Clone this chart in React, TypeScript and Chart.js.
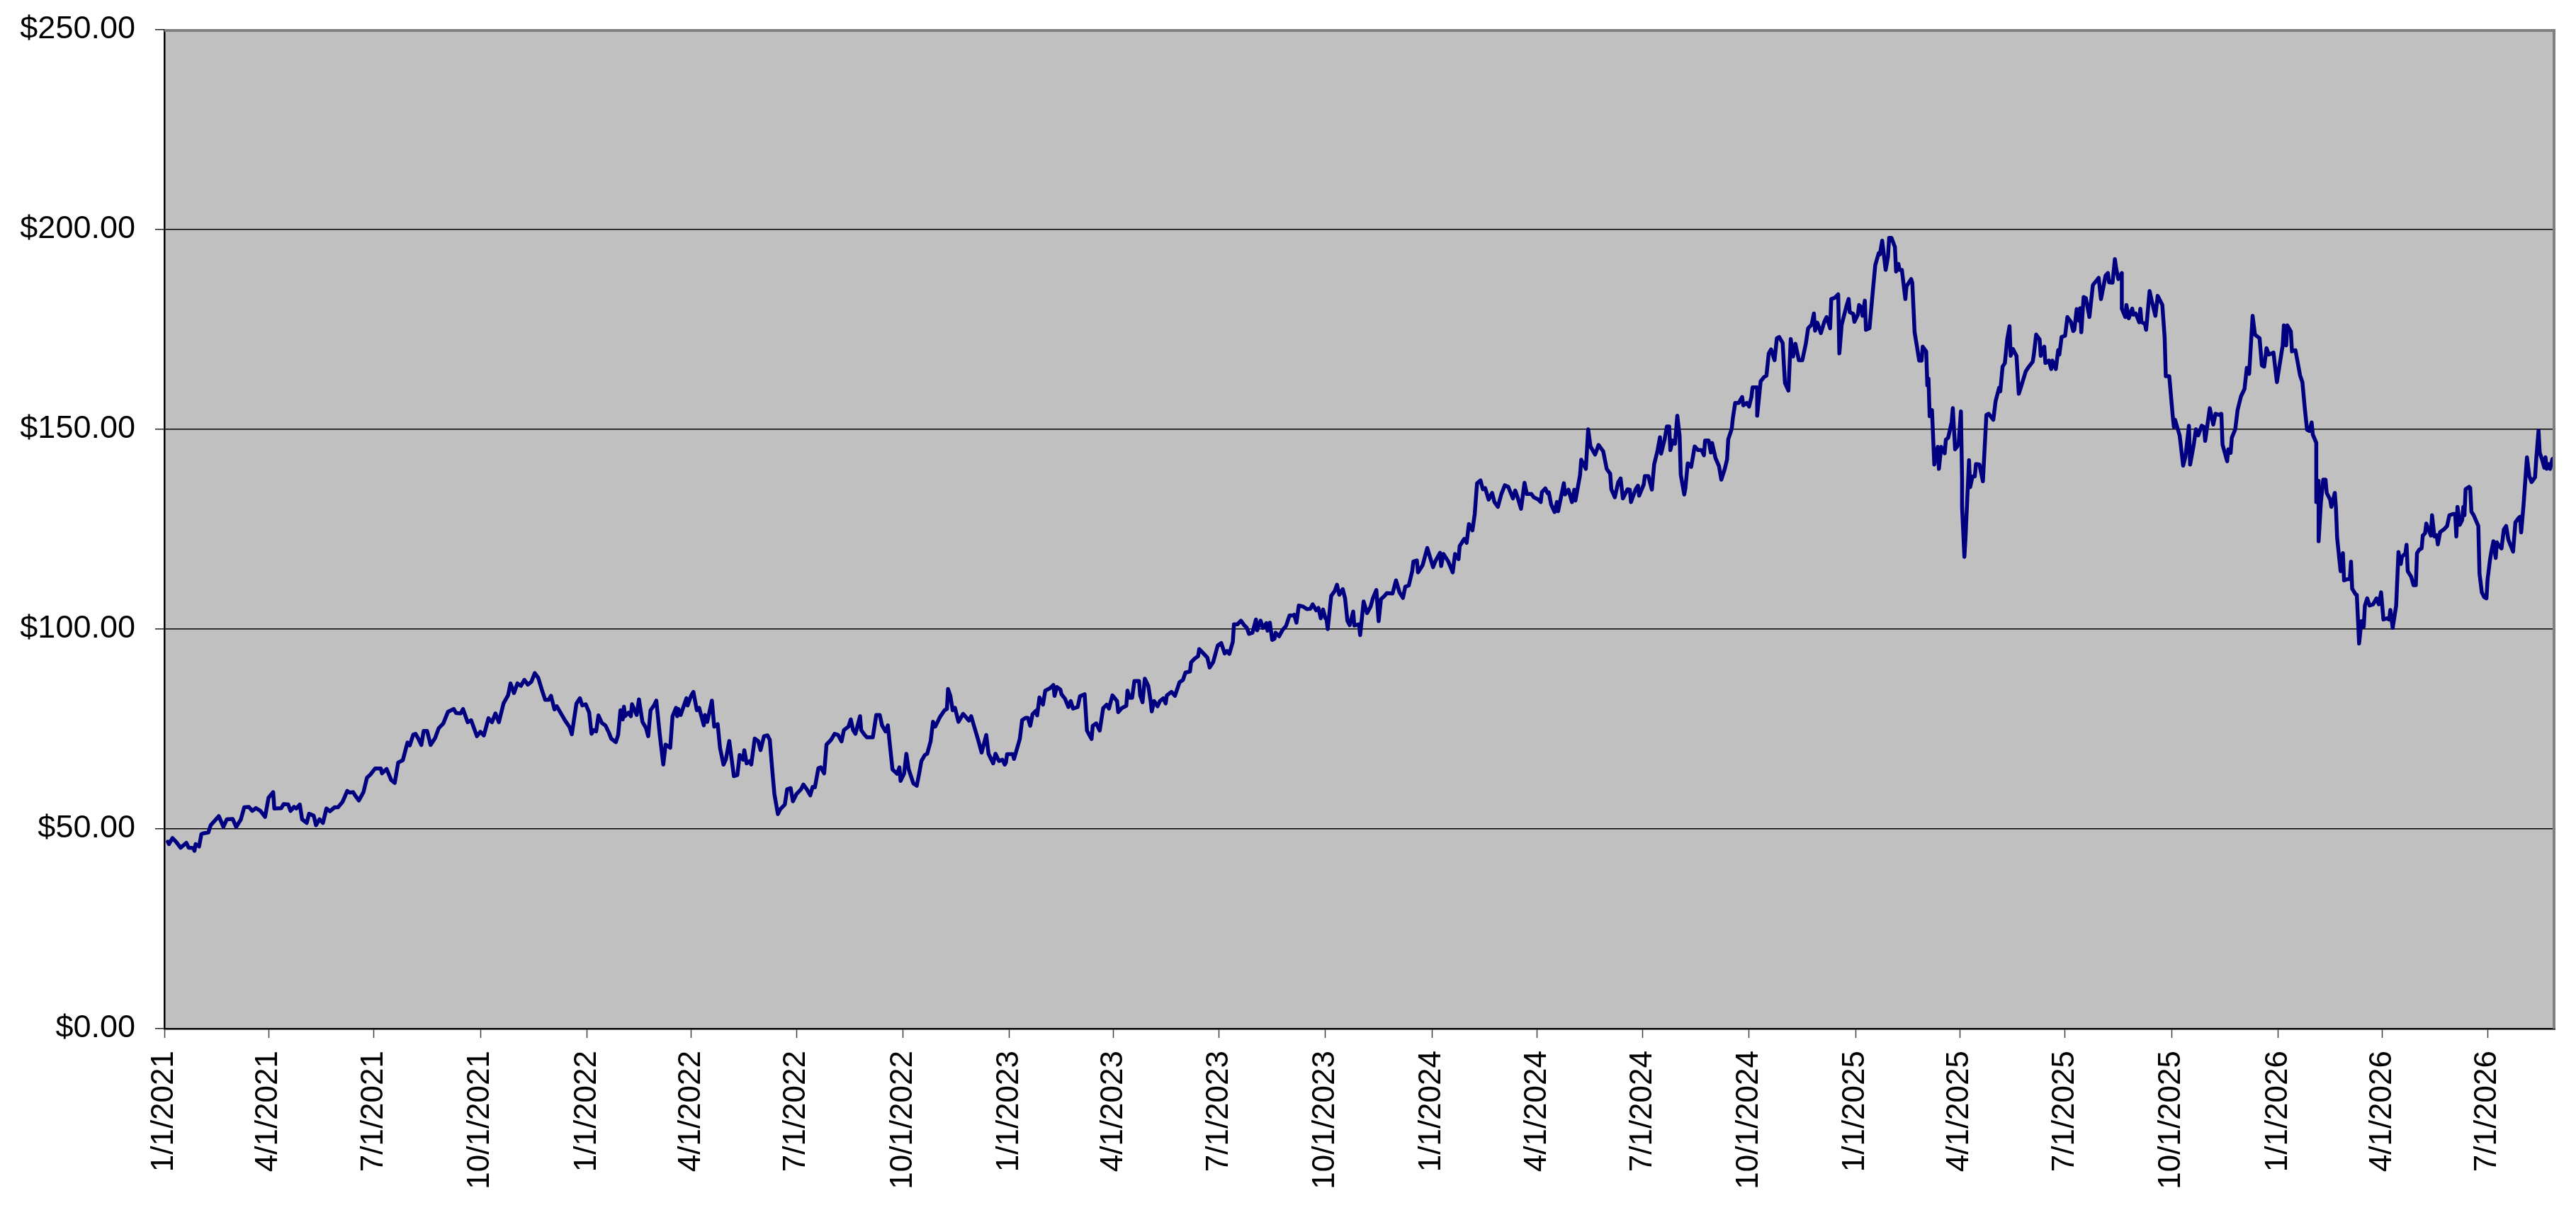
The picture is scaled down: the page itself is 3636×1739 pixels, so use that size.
import { useEffect, useRef } from 'react';
import { Chart, registerables } from 'chart.js';

Chart.register(...registerables);

const FONT_FAMILY = '"Liberation Sans", Arial, Helvetica, sans-serif';

// Quarterly category labels on the date axis
const quarterLabels: string[] = [
  '1/1/2021', '4/1/2021', '7/1/2021', '10/1/2021',
  '1/1/2022', '4/1/2022', '7/1/2022', '10/1/2022',
  '1/1/2023', '4/1/2023', '7/1/2023', '10/1/2023',
  '1/1/2024', '4/1/2024', '7/1/2024', '10/1/2024',
  '1/1/2025', '4/1/2025', '7/1/2025', '10/1/2025',
  '1/1/2026', '4/1/2026', '7/1/2026',
];

// Value axis
const yMin = 0;
const yMax = 250;
const yStep = 50;

// [days since 1/1/2021, closing price]
const period2021: [number, number][] = [
  [3, 46.8], [4, 46.2], [7, 47.7], [10, 46.8], [14, 45.3], [19, 46.5], [21, 45.3], [25, 45.2], [26, 44.5], [27, 46.2],
  [30, 45.6], [32, 48.7], [34, 48.9], [38, 49.1], [40, 50.9], [47, 53.2], [51, 50.5], [54, 52.4], [59, 52.5], [62, 50.5],
  [66, 52.3], [69, 55.4], [73, 55.5], [76, 54.5], [79, 55.2], [83, 54.5], [87, 53.0], [90, 57.8], [94, 59.2], [95, 55.1],
  [101, 55.2], [103, 56.2], [107, 56.1], [109, 54.5], [112, 55.5], [114, 55.1], [117, 56.1], [119, 52.4], [123, 51.5], [125, 53.8],
  [129, 53.3], [131, 50.9], [134, 52.4], [137, 51.5], [140, 55.1], [143, 54.4], [147, 55.4], [150, 55.4], [154, 56.8], [158, 59.5],
  [160, 59.1], [163, 59.2], [165, 58.3], [168, 57.1], [172, 59.2], [175, 62.8], [178, 63.6], [182, 65.1], [187, 65.1], [188, 63.9],
  [192, 65.0], [196, 62.2], [199, 61.5], [202, 66.6], [206, 67.2], [210, 71.6], [212, 70.9], [215, 73.6], [217, 73.8], [219, 72.8],
  [222, 71.0], [224, 74.5], [227, 74.5], [230, 71.0], [234, 72.8], [237, 75.2], [241, 76.4], [245, 79.3], [250, 80.0], [252, 79.0],
  [256, 78.9], [258, 80.0], [262, 76.7], [265, 77.2], [270, 73.2], [273, 74.3], [276, 73.4], [280, 77.7], [283, 76.7], [286, 78.9],
  [289, 76.7], [293, 81.4], [297, 83.5], [299, 86.4], [302, 84.0], [305, 86.4], [308, 85.8], [311, 87.3], [314, 86.1], [317, 86.8],
  [320, 89.0], [323, 87.8], [326, 84.9], [329, 82.3], [332, 82.3], [334, 83.3], [337, 79.9], [339, 80.7], [343, 78.7], [346, 77.2],
  [350, 75.5], [352, 73.7], [356, 81.4],
];

const period2022: [number, number][] = [
  [359, 82.7], [361, 80.9], [364, 81.2], [367, 79.1], [369, 73.8], [371, 74.7], [373, 74.4], [375, 78.4], [378, 76.5], [381, 75.9],
  [384, 74.1], [386, 72.6], [390, 71.7], [392, 73.5], [394, 79.7], [396, 77.4], [397, 80.6], [398, 78.2], [401, 79.1], [403, 78.2],
  [404, 81.2], [408, 78.5], [410, 82.4], [413, 76.8], [416, 75.3], [418, 73.2], [420, 79.7], [423, 80.9], [425, 82.1], [428, 73.5],
  [431, 66.1], [433, 71.1], [437, 70.3], [439, 78.2], [442, 80.3], [443, 78.2], [444, 80.0], [446, 78.5], [451, 82.7], [452, 80.9],
  [455, 83.3], [457, 84.3], [460, 79.7], [462, 80.3], [466, 75.9], [467, 78.5], [469, 76.8], [473, 82.1], [475, 75.6], [478, 76.2],
  [480, 70.3], [483, 66.1], [485, 67.3], [488, 72.0], [490, 67.6], [492, 63.2], [495, 63.5], [497, 68.5], [500, 67.3], [501, 69.7],
  [503, 66.4], [506, 67.0], [507, 66.1], [510, 72.6], [513, 72.0], [515, 69.7], [518, 73.2], [521, 73.4], [523, 72.3], [525, 65.2],
  [527, 58.7], [530, 53.7], [532, 54.9], [536, 56.1], [538, 59.9], [541, 60.2], [543, 56.9], [546, 58.7], [550, 59.9], [552, 61.1],
  [555, 59.9], [558, 58.4], [560, 60.5], [562, 60.4], [565, 65.2], [567, 65.4], [570, 63.9], [572, 71.1], [576, 72.3], [579, 73.8],
  [582, 73.5], [585, 71.9], [587, 74.7], [591, 75.6], [593, 77.4], [595, 74.7], [597, 73.8], [601, 78.2], [602, 74.7], [605, 73.5],
  [607, 72.9], [612, 72.9], [615, 78.5], [618, 78.5], [620, 75.9], [623, 74.4], [625, 75.9], [629, 64.9], [633, 63.8], [635, 65.4],
  [636, 62.0], [639, 63.8], [641, 68.8], [643, 64.9], [647, 61.4], [650, 60.8], [652, 63.8], [654, 67.0], [657, 68.5], [659, 68.8],
  [662, 72.0], [664, 76.8], [666, 75.6], [670, 78.0], [674, 79.7], [676, 80.0], [677, 85.0], [679, 83.3], [681, 79.7], [683, 80.3],
  [686, 76.8], [690, 78.8], [695, 77.1], [697, 78.2], [699, 76.2], [703, 72.3], [706, 69.1], [710, 73.5], [712, 68.8], [716, 66.4],
  [718, 68.8], [721, 67.0], [724, 67.3], [726, 66.1],
];

const period2023: [number, number][] = [
  [727, 66.6], [728, 68.7], [733, 68.7], [734, 67.5], [736, 69.5], [739, 72.5], [741, 77.2], [744, 77.8], [746, 77.8], [748, 75.8],
  [750, 78.7], [753, 79.6], [754, 78.4], [756, 82.9], [759, 81.1], [761, 84.6], [765, 85.2], [768, 86.0], [769, 83.3], [771, 85.5],
  [774, 84.9], [775, 83.7], [778, 82.6], [781, 80.5], [783, 82.0], [785, 80.1], [789, 80.5], [791, 83.2], [795, 83.7], [797, 74.6],
  [801, 72.5], [802, 75.8], [805, 76.4], [808, 74.6], [811, 80.2], [814, 81.1], [816, 80.1], [819, 83.4], [823, 82.0], [824, 79.2],
  [827, 80.2], [831, 80.8], [832, 84.6], [834, 82.8], [836, 82.8], [838, 87.0], [842, 87.0], [843, 83.4], [845, 81.7], [847, 87.6],
  [850, 85.8], [852, 82.0], [853, 79.4], [855, 82.0], [858, 80.7], [860, 82.0], [863, 82.7], [865, 81.4], [866, 83.4], [870, 84.3],
  [873, 83.3], [877, 86.7], [880, 87.3], [882, 89.1], [886, 89.4], [887, 91.7], [890, 92.6], [893, 93.2], [894, 95.0], [898, 93.8],
  [901, 92.9], [903, 90.4], [906, 91.7], [910, 95.9], [913, 96.5], [916, 93.9], [918, 94.5], [920, 93.8], [923, 96.8], [924, 101.2],
  [927, 101.2], [930, 102.1], [933, 100.9], [935, 100.4], [937, 98.8], [940, 99.1], [943, 102.4], [944, 99.7], [947, 102.1], [949, 100.3],
  [952, 101.5], [953, 99.6], [955, 101.6], [957, 97.3], [959, 97.6], [960, 99.1], [963, 98.2], [966, 99.8], [969, 100.8], [972, 103.4],
  [975, 103.4], [976, 103.6], [978, 101.6], [980, 105.9], [984, 105.6], [987, 105.0], [990, 105.1], [992, 106.2], [995, 104.7], [997, 105.3],
  [999, 102.7], [1001, 104.9], [1003, 102.7], [1004, 102.4], [1005, 100.0], [1008, 108.3], [1011, 109.5], [1013, 111.1], [1015, 108.6], [1018, 110.0],
  [1020, 107.7], [1022, 102.1], [1024, 101.0], [1027, 104.4], [1028, 100.9], [1032, 101.2], [1033, 98.5], [1036, 106.9], [1039, 104.0], [1042, 105.6],
  [1044, 107.7], [1047, 109.8], [1049, 102.0], [1051, 107.5], [1054, 108.3], [1056, 109.0], [1061, 108.9], [1064, 112.2], [1067, 109.2], [1070, 107.8],
  [1072, 110.6], [1075, 110.9], [1078, 114.5], [1079, 116.9], [1082, 117.2], [1083, 114.2], [1087, 116.0],
];

const period2024: [number, number][] = [
  [1091, 120.3], [1096, 115.5], [1098, 117.0], [1102, 119.1], [1103, 115.8], [1105, 118.8], [1109, 117.0], [1113, 114.2], [1115, 118.8], [1118, 117.5],
  [1119, 120.8], [1123, 122.6], [1125, 121.6], [1127, 126.3], [1130, 124.7], [1132, 128.8], [1134, 136.5], [1137, 137.2], [1139, 135.0], [1141, 135.3],
  [1144, 132.4], [1147, 134.1], [1149, 131.8], [1152, 130.6], [1155, 133.8], [1158, 136.0], [1161, 135.6], [1165, 132.7], [1167, 134.7], [1169, 133.0],
  [1172, 130.1], [1175, 136.6], [1177, 133.8], [1181, 133.8], [1183, 133.0], [1187, 132.4], [1189, 131.8], [1190, 134.3], [1193, 135.2], [1195, 134.0],
  [1196, 134.2], [1198, 131.2], [1201, 129.3], [1203, 131.8], [1204, 129.5], [1209, 136.5], [1210, 133.7], [1213, 134.9], [1216, 131.8], [1218, 134.9],
  [1219, 132.2], [1223, 138.6], [1224, 142.4], [1228, 140.1], [1230, 150.0], [1232, 145.7], [1236, 143.7], [1239, 146.1], [1243, 144.5], [1246, 140.1],
  [1249, 138.9], [1250, 135.0], [1253, 133.0], [1256, 136.8], [1258, 137.7], [1260, 132.7], [1264, 135.0], [1266, 134.9], [1267, 131.8], [1271, 135.0],
  [1273, 135.9], [1274, 133.4], [1278, 136.2], [1279, 138.3], [1282, 138.3], [1285, 134.9], [1287, 141.2], [1290, 144.8], [1292, 148.0], [1293, 143.9],
  [1296, 147.4], [1298, 150.7], [1300, 150.7], [1301, 144.8], [1303, 147.2], [1305, 146.4], [1307, 153.4], [1309, 148.3], [1310, 138.6], [1313, 133.7],
  [1314, 135.3], [1316, 141.5], [1319, 140.6], [1322, 145.7], [1325, 144.8], [1328, 144.8], [1330, 143.5], [1331, 147.2], [1334, 147.2], [1336, 144.2],
  [1337, 146.6], [1340, 142.8], [1343, 140.8], [1345, 137.4], [1348, 140.1], [1350, 142.5], [1351, 147.5], [1354, 150.1], [1355, 152.8], [1357, 156.6],
  [1360, 156.6], [1363, 158.1], [1364, 156.0], [1367, 156.6], [1369, 155.7], [1371, 158.1], [1372, 160.5], [1376, 160.5], [1376, 153.4], [1379, 162.0],
  [1382, 163.1], [1384, 163.4], [1386, 169.0], [1388, 170.0], [1391, 167.3], [1393, 172.8], [1395, 173.1], [1398, 171.6], [1400, 161.6], [1403, 159.7],
  [1405, 172.6], [1407, 168.2], [1409, 171.4], [1412, 167.3], [1415, 167.3], [1418, 171.4], [1420, 175.3], [1423, 176.2], [1425, 179.0], [1426, 174.7],
  [1428, 176.7], [1431, 174.1], [1434, 176.9], [1436, 178.1], [1439, 175.3], [1440, 182.6], [1443, 182.9], [1446, 183.8], [1447, 169.0], [1449, 176.2],
  [1453, 180.7],
];

const period2025: [number, number][] = [
  [1455, 182.6], [1456, 179.3], [1459, 178.9], [1460, 176.9], [1463, 178.7], [1464, 181.1], [1466, 180.5], [1467, 178.4], [1469, 182.2], [1470, 174.9],
  [1473, 175.3], [1476, 184.9], [1478, 191.1], [1481, 194.1], [1482, 193.8], [1484, 197.2], [1487, 189.9], [1489, 193.2], [1490, 197.9], [1492, 197.9],
  [1495, 195.6], [1496, 189.5], [1498, 191.4], [1499, 189.9], [1501, 189.9], [1504, 182.6], [1505, 185.8], [1509, 187.6], [1510, 186.7], [1512, 174.3],
  [1516, 167.2], [1518, 167.2], [1519, 170.7], [1522, 169.5], [1523, 161.0], [1524, 162.7], [1525, 153.3], [1527, 154.8], [1529, 141.2], [1532, 145.6],
  [1533, 140.1], [1535, 145.6], [1538, 144.0], [1539, 147.4], [1541, 147.9], [1544, 151.8], [1545, 155.3], [1547, 145.0], [1550, 146.2], [1552, 154.5],
  [1553, 137.6], [1553, 130.5], [1555, 118.1], [1556, 123.1], [1559, 142.3], [1560, 135.5], [1562, 138.2], [1564, 138.2], [1565, 141.3], [1568, 141.2],
  [1571, 137.0], [1574, 153.6], [1576, 153.9], [1580, 152.4], [1582, 157.1], [1585, 160.4], [1586, 159.5], [1588, 165.7], [1590, 166.6], [1592, 172.5],
  [1594, 175.8], [1595, 168.4], [1597, 170.1], [1600, 168.4], [1602, 158.9], [1604, 160.7], [1608, 164.5], [1610, 165.4], [1614, 166.9], [1615, 168.7],
  [1617, 173.7], [1620, 172.5], [1621, 168.4], [1624, 170.7], [1625, 166.6], [1628, 167.2], [1630, 165.1], [1631, 167.2], [1634, 165.1], [1636, 169.8],
  [1637, 168.7], [1639, 173.1], [1642, 173.4], [1644, 178.1], [1647, 176.9], [1649, 174.6], [1650, 174.9], [1652, 180.1], [1654, 177.2], [1655, 180.3],
  [1656, 174.3], [1658, 183.1], [1660, 182.8], [1663, 178.1], [1666, 186.1], [1671, 187.9], [1673, 182.6], [1677, 188.5], [1679, 189.1], [1680, 186.8],
  [1683, 186.7], [1685, 192.6], [1686, 190.5], [1688, 187.6], [1691, 189.1], [1691, 180.2], [1694, 178.1], [1695, 181.1], [1697, 177.8], [1700, 180.2],
  [1701, 178.7], [1703, 179.0], [1706, 176.8], [1707, 180.2], [1708, 176.8], [1711, 176.4], [1712, 174.9], [1715, 184.6], [1717, 182.0], [1720, 178.4],
  [1722, 183.4], [1726, 181.1], [1728, 173.1], [1729, 163.3], [1732, 163.3], [1735, 153.3], [1736, 150.6], [1737, 152.4], [1741, 148.4], [1744, 140.9],
  [1746, 143.2], [1749, 150.9], [1750, 141.2], [1753, 145.9], [1755, 150.0], [1757, 148.5], [1760, 150.9], [1762, 150.6], [1763, 147.1], [1767, 155.3],
  [1770, 151.2], [1772, 153.9], [1775, 153.6], [1777, 153.9], [1778, 146.2], [1782, 142.0], [1783, 145.0], [1785, 144.1], [1786, 147.9], [1789, 150.0],
  [1791, 154.8], [1794, 158.3], [1797, 160.1], [1799, 165.4], [1801, 163.9], [1804, 178.4], [1806, 173.7], [1810, 172.8], [1812, 166.0], [1814, 165.7],
  [1816, 170.3], [1818, 168.7],
];

const period2026: [number, number][] = [
  [1822, 169.2], [1825, 161.8], [1828, 167.4], [1830, 171.0], [1831, 176.0], [1833, 171.0], [1834, 176.0], [1837, 174.5], [1838, 169.5], [1841, 169.8],
  [1845, 163.5], [1847, 161.8], [1849, 155.5], [1851, 149.9], [1853, 149.6], [1855, 151.7], [1856, 148.7], [1859, 146.6], [1859, 131.8], [1861, 137.1],
  [1861, 122.0], [1863, 131.8], [1865, 137.4], [1867, 137.4], [1868, 134.1], [1871, 132.4], [1872, 130.6], [1875, 134.1], [1876, 130.3], [1877, 122.9],
  [1880, 114.5], [1882, 119.0], [1883, 112.2], [1886, 112.5], [1888, 112.5], [1889, 116.9], [1890, 110.1], [1893, 108.7], [1894, 108.6], [1896, 96.4],
  [1898, 102.0], [1900, 100.6], [1901, 105.9], [1903, 107.7], [1905, 105.9], [1908, 106.2], [1911, 107.7], [1913, 106.2], [1915, 109.2], [1917, 102.4],
  [1920, 102.7], [1922, 102.4], [1923, 104.8], [1925, 100.3], [1928, 105.9], [1930, 119.3], [1932, 116.3], [1933, 118.1], [1936, 119.0], [1937, 121.1],
  [1938, 114.5], [1941, 113.1], [1943, 111.0], [1945, 111.0], [1946, 119.0], [1948, 119.9], [1950, 120.2], [1951, 123.4], [1953, 124.0], [1954, 126.4],
  [1956, 124.9], [1958, 123.4], [1959, 128.5], [1961, 123.2], [1963, 123.5], [1964, 121.2], [1966, 124.3], [1969, 124.9], [1972, 125.8], [1974, 128.5],
  [1977, 128.8], [1979, 128.8], [1980, 123.2], [1981, 130.6], [1983, 126.1], [1985, 127.3], [1986, 130.6], [1987, 128.5], [1988, 135.0], [1991, 135.6],
  [1992, 135.3], [1993, 129.4], [1995, 128.5], [1999, 125.8], [2000, 113.9], [2002, 109.2], [2004, 108.0], [2006, 107.7], [2007, 112.5], [2009, 117.2],
  [2010, 119.0], [2012, 122.0], [2014, 117.8], [2015, 121.7], [2017, 120.8], [2019, 120.2], [2021, 124.9], [2023, 125.8], [2025, 122.3], [2029, 119.4],
  [2031, 126.7], [2034, 127.9], [2035, 128.1], [2036, 124.2], [2038, 130.9], [2041, 143.0], [2043, 138.3], [2045, 136.8], [2048, 138.0], [2049, 142.5],
  [2051, 149.7], [2052, 144.2], [2054, 142.5], [2056, 140.4], [2057, 143.0], [2058, 140.1], [2060, 141.3], [2061, 140.1], [2063, 142.6], [2065, 142.8],
];

function daysSinceStart(label: string): number {
  const [m, d, y] = label.split('/').map(Number);
  return Math.round((Date.UTC(y, m - 1, d) - Date.UTC(2021, 0, 1)) / 86400000);
}

const plotFrame = {
  id: 'plotFrame',
  beforeDraw(chart: any) {
    const { ctx, chartArea } = chart;
    const { left, top, right, bottom } = chartArea;
    ctx.save();
    ctx.fillStyle = '#C0C0C0';
    ctx.fillRect(left, top, right - left, bottom - top);
    ctx.restore();
  },
  afterDraw(chart: any) {
    const { ctx, chartArea } = chart;
    const { left, top, right, bottom } = chartArea;
    ctx.save();
    ctx.strokeStyle = '#808080';
    ctx.lineWidth = 4;
    ctx.beginPath();
    ctx.moveTo(left, top + 1);
    ctx.lineTo(right - 1, top + 1);
    ctx.lineTo(right - 1, bottom);
    ctx.stroke();
    ctx.restore();
  },
};

export default function App() {
  const canvasRef = useRef<HTMLCanvasElement>(null);

  useEffect(() => {
    const canvas = canvasRef.current;
    if (!canvas) return;
    const all = [...period2021, ...period2022, ...period2023, ...period2024, ...period2025, ...period2026];
    const points = all.map(([x, y]) => ({ x, y }));
    const tickDays = quarterLabels.map(daysSinceStart);
    const labelByDay = new Map<number, string>();
    tickDays.forEach((d, i) => labelByDay.set(d, quarterLabels[i]));
    const lastDay = all[all.length - 1][0];

    const chart = new Chart(canvas, {
      type: 'line',
      data: {
        datasets: [
          {
            data: points,
            borderColor: '#000080',
            borderWidth: 5.5,
            borderJoinStyle: 'round',
            borderCapStyle: 'round',
            pointRadius: 0,
            pointHoverRadius: 0,
            tension: 0,
            fill: false,
          },
        ],
      },
      options: {
        animation: false,
        responsive: false,
        devicePixelRatio: 1,
        layout: { padding: { top: 42, right: 30, left: 0, bottom: 0 } },
        plugins: { legend: { display: false }, tooltip: { enabled: false } },
        scales: {
          x: {
            type: 'linear',
            min: 0,
            max: lastDay,
            afterBuildTicks: (axis: any) => {
              axis.ticks = tickDays.map((v) => ({ value: v }));
            },
            afterFit: (axis: any) => {
              axis.height = 287;
              axis.paddingLeft = 0;
              axis.paddingRight = 0;
            },
            grid: {
              display: true,
              drawOnChartArea: false,
              drawTicks: true,
              tickLength: 13,
              tickColor: '#404040',
              tickWidth: 1.5,
            },
            border: { display: true, color: '#000', width: 2.5 },
            ticks: {
              autoSkip: false,
              maxRotation: 90,
              minRotation: 90,
              padding: 18,
              color: '#000',
              font: { size: 44, family: FONT_FAMILY },
              callback: (v: any) => labelByDay.get(Number(v)) ?? '',
            },
          },
          y: {
            min: yMin,
            max: yMax,
            afterFit: (axis: any) => {
              axis.width = 232;
              axis.paddingTop = 0;
              axis.paddingBottom = 0;
            },
            grid: {
              color: (ctx: any) =>
                ctx.tick && (ctx.tick.value === yMin || ctx.tick.value === yMax) ? 'rgba(0,0,0,0)' : '#000',
              lineWidth: 1.5,
              drawTicks: true,
              tickLength: 13,
              tickColor: '#202020',
              tickWidth: 1.5,
            },
            border: { display: true, color: '#000', width: 2.5 },
            ticks: {
              stepSize: yStep,
              padding: 28,
              color: '#000',
              font: { size: 45, family: FONT_FAMILY },
              callback: (v: any) => '$' + Number(v).toFixed(2),
            },
          },
        },
      },
      plugins: [plotFrame],
    });

    return () => chart.destroy();
  }, []);

  return (
    <div style={{ position: 'fixed', left: 0, top: 0, background: '#fff' }}>
      <canvas ref={canvasRef} width={3636} height={1739} style={{ display: 'block' }} />
    </div>
  );
}
